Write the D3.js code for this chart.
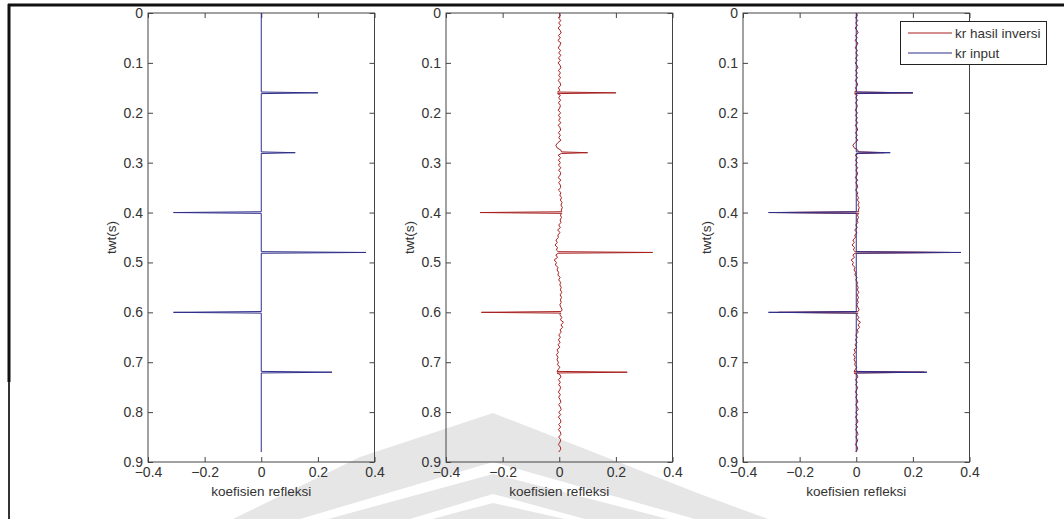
<!DOCTYPE html>
<html>
<head>
<meta charset="utf-8">
<script src="https://cdn.jsdelivr.net/npm/d3@7/dist/d3.min.js"></script>
<style>
  html, body { margin: 0; padding: 0; background: #fff; }
  svg { display: block; }
  text { font-family: "Liberation Sans", Arial, sans-serif; fill: #333; }
</style>
</head>
<body>
<svg id="chart" width="1064" height="519"></svg>
<script>
// Two-way travel time of each reflector (s)
const reflectorTimes = [0.16, 0.28, 0.40, 0.48, 0.60, 0.72];
// Input reflection coefficients ("kr input")
const krInput = [0.20, 0.12, -0.31, 0.37, -0.31, 0.25];
// Inverted reflection coefficients at the same reflectors ("kr hasil inversi")
const krInversi = [0.20, 0.10, -0.28, 0.33, -0.275, 0.24];

// Residual of the inversion between reflectors, sampled every 5 ms from 0 to 0.88 s
const sampleStep = 0.005;
const residual = [
  0.000, 0.004, -0.003, 0.006, -0.002, 0.005, -0.004, 0.003, 0.007, -0.003, 0.004, -0.005, 0.006, 0.002, -0.004, 0.005, -0.002, 0.006, -0.003, 0.004,
  -0.004, 0.003, 0.006, -0.003, 0.004, -0.002, 0.005, -0.004, 0.003, 0.005, -0.003, 0.002, -0.006, 0.004, -0.002, 0.005, -0.003, 0.004, 0.002, -0.004,
  0.005, -0.003, 0.004, -0.002, 0.006, -0.004, 0.003, 0.005, -0.003, 0.004, -0.002, 0.006, -0.005, -0.012, -0.008, 0.006, 0.008, -0.004, 0.005, -0.003,
  0.004, -0.003, 0.006, -0.002, 0.005, 0.003, -0.004, 0.006, -0.002, 0.004, 0.005, -0.003, 0.006, 0.002, 0.008, 0.004, 0.010, 0.006, 0.011, 0.007,
  0.009, 0.004, 0.008, 0.003, 0.006, -0.002, 0.004, -0.006, 0.003, -0.005, -0.003, -0.012, -0.007, -0.015, -0.006, -0.010, -0.004, -0.012, -0.006, -0.018,
  -0.010, -0.014, -0.004, -0.008, -0.002, -0.005, 0.003, -0.002, 0.005, 0.002, 0.007, 0.004, 0.009, 0.003, 0.008, 0.004, 0.007, 0.002, 0.006, 0.010,
  0.006, 0.002, 0.009, 0.004, 0.015, 0.006, 0.012, 0.003, 0.007, -0.002, 0.004, -0.003, 0.003, -0.004, 0.002, -0.008, -0.003, -0.010, -0.004, -0.008,
  -0.003, -0.006, 0.002, -0.004, -0.008, 0.003, 0.006, -0.003, 0.004, -0.002, 0.005, 0.002, -0.003, 0.004, -0.002, 0.003, 0.006, -0.002, 0.004, 0.007,
  -0.002, 0.005, -0.003, 0.004, 0.006, -0.002, 0.005, -0.003, 0.004, 0.006, -0.002, 0.005, 0.003, -0.003, 0.004, 0.005, -0.002
];
const traceEnd = 0.88;

// Axis ticks
const xTicks = [-0.4, -0.2, 0, 0.2, 0.4];
const yTicks = [0, 0.1, 0.2, 0.3, 0.4, 0.5, 0.6, 0.7, 0.8, 0.9];

const xLabel = "koefisien refleksi";
const yLabel = "twt(s)";
const legendLabels = ["kr hasil inversi", "kr input"];
const colInversi = "#a82020";
const colInput = "#2e2e8a";

const svg = d3.select("#chart");

// ---- page frame ----
svg.append("line").attr("x1", 8).attr("x2", 1064).attr("y1", 5).attr("y2", 5)
  .attr("stroke", "#111").attr("stroke-width", 3);
svg.append("line").attr("x1", 9).attr("x2", 9).attr("y1", 4).attr("y2", 382)
  .attr("stroke", "#111").attr("stroke-width", 3);
svg.append("line").attr("x1", 9).attr("x2", 9).attr("y1", 382).attr("y2", 519)
  .attr("stroke", "#333").attr("stroke-width", 2);

// ---- faint emblem behind the plots ----
const emblem = svg.append("g");
emblem.append("polygon")
  .attr("points", "233,519 360,457 493,413 700,494 768,519")
  .attr("fill", "#e6e6e6");
emblem.append("polygon")
  .attr("points", "300,519 493,462 695,519 668,519 493,474 328,519")
  .attr("fill", "#fff");
emblem.append("polygon")
  .attr("points", "410,519 493,494 585,519 565,519 493,503 432,519")
  .attr("fill", "#fff");

// ---- trace builders ----
const spikeHalf = 0.0016; // half-height of each reflector's triangle (s)

function inputTrace() {
  const pts = [[0, 0]];
  reflectorTimes.forEach((t, i) => {
    pts.push([0, t - spikeHalf], [krInput[i], t], [0, t + spikeHalf]);
  });
  pts.push([0, traceEnd]);
  return pts;
}

function inversiTrace() {
  const pts = [];
  residual.forEach((r, i) => {
    const t = +(i * sampleStep).toFixed(4);
    const k = reflectorTimes.findIndex(rt => Math.abs(rt - t) < 1e-6);
    if (k >= 0) {
      pts.push([r, t - spikeHalf], [krInversi[k], t], [r, t + spikeHalf]);
    } else {
      pts.push([r, t]);
    }
  });
  return pts;
}

// ---- panels ----
const panelLefts = [148, 446, 743];
const panelW = 226.5;
const plotTop = 13, plotBottom = 462;
const tickFont = 14;

const y = d3.scaleLinear().domain([0, 0.9]).range([plotTop, plotBottom]);

panelLefts.forEach((left, p) => {
  const x = d3.scaleLinear().domain([-0.4, 0.4]).range([left, left + panelW]);
  const g = svg.append("g");
  const line = d3.line().x(d => x(d[0])).y(d => y(d[1]));

  // axes box
  g.append("rect").attr("x", left).attr("y", plotTop).attr("width", panelW).attr("height", plotBottom - plotTop)
    .attr("fill", "none").attr("stroke", "#444").attr("stroke-width", 1);

  const fmt = d => (d === 0 ? "0" : d3.format(".1f")(d));

  const axB = g.append("g").attr("transform", `translate(0,${plotBottom})`)
    .call(d3.axisBottom(x).tickValues(xTicks).tickSize(-5).tickPadding(5).tickFormat(fmt));
  const axT = g.append("g").attr("transform", `translate(0,${plotTop})`)
    .call(d3.axisTop(x).tickValues(xTicks).tickSize(-5).tickFormat(""));
  const axL = g.append("g").attr("transform", `translate(${left},0)`)
    .call(d3.axisLeft(y).tickValues(yTicks).tickSize(-5).tickPadding(5).tickFormat(fmt));
  const axR = g.append("g").attr("transform", `translate(${left + panelW},0)`)
    .call(d3.axisRight(y).tickValues(yTicks).tickSize(-5).tickFormat(""));

  [axB, axT, axL, axR].forEach(a => {
    a.select(".domain").remove();
    a.selectAll(".tick line").attr("stroke", "#444");
    a.selectAll("text").attr("font-size", tickFont).attr("fill", "#333")
      .attr("font-family", "'Liberation Sans', Arial, sans-serif");
  });

  // labels
  g.append("text").attr("x", left + panelW / 2).attr("y", 496)
    .attr("text-anchor", "middle").attr("font-size", 13.5).text(xLabel);
  g.append("text").attr("transform", `translate(${left - 32},${y(0.45)}) rotate(-90)`)
    .attr("text-anchor", "middle").attr("font-size", 13.5).text(yLabel);

  // traces
  if (p === 0) {
    g.append("path").datum(inputTrace()).attr("d", line)
      .attr("fill", "none").attr("stroke", colInput).attr("stroke-width", 1);
  } else if (p === 1) {
    g.append("path").datum(inversiTrace()).attr("d", line)
      .attr("fill", "none").attr("stroke", colInversi).attr("stroke-width", 1);
  } else {
    g.append("path").datum(inversiTrace()).attr("d", line)
      .attr("fill", "none").attr("stroke", colInversi).attr("stroke-width", 1);
    g.append("path").datum(inputTrace()).attr("d", line)
      .attr("fill", "none").attr("stroke", colInput).attr("stroke-width", 1);
  }
});

// ---- legend ----
const lg = svg.append("g");
lg.append("rect").attr("x", 900.5).attr("y", 21.5).attr("width", 146).attr("height", 43)
  .attr("fill", "#fff").attr("stroke", "#222").attr("stroke-width", 1);
[colInversi, colInput].forEach((c, i) => {
  const ly = 33 + i * 20;
  lg.append("line").attr("x1", 908).attr("x2", 952).attr("y1", ly).attr("y2", ly)
    .attr("stroke", c).attr("stroke-width", 1);
  lg.append("text").attr("x", 955).attr("y", ly).attr("dy", "0.35em")
    .attr("font-size", 13.5).text(legendLabels[i]);
});
</script>
</body>
</html>
